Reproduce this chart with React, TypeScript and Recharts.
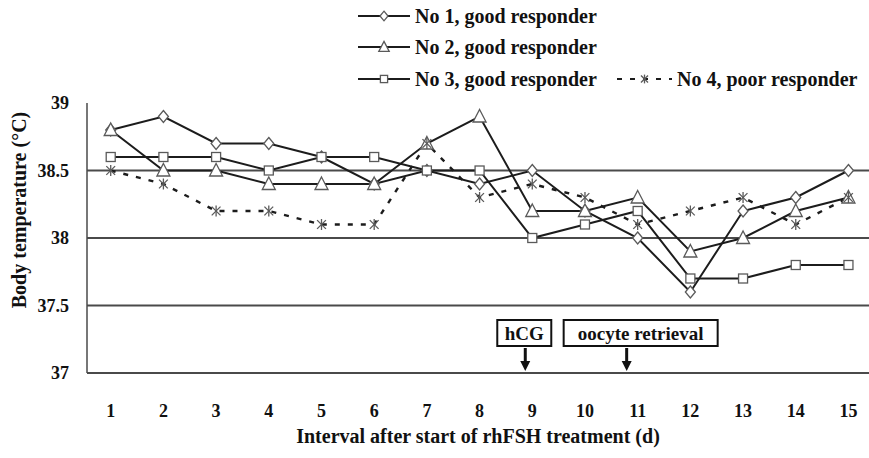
import { LineChart, Line, XAxis, YAxis, CartesianGrid, ReferenceDot } from 'recharts'

// ─── Data ─────────────────────────────────────────────────────────────────────

const days = [1, 2, 3, 4, 5, 6, 7, 8, 9, 10, 11, 12, 13, 14, 15]
const no1 = [38.8, 38.9, 38.7, 38.7, 38.6, 38.4, 38.5, 38.4, 38.5, 38.2, 38.0, 37.6, 38.2, 38.3, 38.5]
const no2 = [38.8, 38.5, 38.5, 38.4, 38.4, 38.4, 38.7, 38.9, 38.2, 38.2, 38.3, 37.9, 38.0, 38.2, 38.3]
const no3 = [38.6, 38.6, 38.6, 38.5, 38.6, 38.6, 38.5, 38.5, 38.0, 38.1, 38.2, 37.7, 37.7, 37.8, 37.8]
const no4 = [38.5, 38.4, 38.2, 38.2, 38.1, 38.1, 38.7, 38.3, 38.4, 38.3, 38.1, 38.2, 38.3, 38.1, 38.3]
const yTicks = [37, 37.5, 38, 38.5, 39]

const rows = days.map((d, i) => ({ day: d, no1: no1[i], no2: no2[i], no3: no3[i], no4: no4[i] }))

type MarkerKind = 'diamond' | 'triangle' | 'square' | 'star'

const series: { key: string; name: string; marker: MarkerKind; dashed?: boolean }[] = [
  { key: 'no1', name: 'No 1, good responder', marker: 'diamond' },
  { key: 'no2', name: 'No 2, good responder', marker: 'triangle' },
  { key: 'no3', name: 'No 3, good responder', marker: 'square' },
  { key: 'no4', name: 'No 4,  poor responder', marker: 'star', dashed: true },
]

const events = [
  { label: 'hCG', day: 9, boxW: 54, boxDx: -8, arrowDx: -7 },
  { label: 'oocyte retrieval', day: 11, boxW: 154, boxDx: 3, arrowDx: -11 },
]

const FONT = '"Liberation Serif", "Times New Roman", serif'
const LINE = '#1c1c1c'
const MARK = '#5a5a5a'
const GRID = '#4a4a4a'

// ─── Markers ──────────────────────────────────────────────────────────────────

function Marker({ kind, cx, cy, scale = 1 }: { kind: MarkerKind; cx: number; cy: number; scale?: number }) {
  const s = scale
  const common = { fill: '#fff', stroke: MARK, strokeWidth: 1.3 }
  if (kind === 'diamond') {
    return <polygon {...common} points={`${cx},${cy - 6 * s} ${cx + 5 * s},${cy} ${cx},${cy + 6 * s} ${cx - 5 * s},${cy}`} />
  }
  if (kind === 'triangle') {
    return <polygon {...common} points={`${cx},${cy - 7 * s} ${cx + 6.5 * s},${cy + 5.5 * s} ${cx - 6.5 * s},${cy + 5.5 * s}`} />
  }
  if (kind === 'square') {
    return <rect {...common} x={cx - 4.5 * s} y={cy - 4.5 * s} width={9 * s} height={9 * s} />
  }
  const r = 5.5 * s
  const d = r * 0.8
  return (
    <g stroke={MARK} strokeWidth={1.3}>
      <line x1={cx} y1={cy - r} x2={cx} y2={cy + r} />
      <line x1={cx - d} y1={cy - d} x2={cx + d} y2={cy + d} />
      <line x1={cx - d} y1={cy + d} x2={cx + d} y2={cy - d} />
    </g>
  )
}

const makeDot = (kind: MarkerKind) => (props: any) => {
  const { cx, cy, index } = props
  if (cx == null || cy == null) return <g key={`${kind}-${index}`} />
  return <Marker key={`${kind}-${index}`} kind={kind} cx={cx} cy={cy} />
}

// ─── Annotations ──────────────────────────────────────────────────────────────

function Callout(props: any) {
  const { cx, cy, label, boxW, boxDx, arrowDx } = props
  const ax = cx + arrowDx
  const bx = cx + boxDx - boxW / 2
  return (
    <g>
      <rect x={bx} y={cy - 53} width={boxW} height={26} fill="#fff" stroke="#111" strokeWidth={2} />
      <text x={bx + boxW / 2} y={cy - 40} textAnchor="middle" dominantBaseline="central"
        fontFamily={FONT} fontWeight={700} fontSize={19} fill="#111">{label}</text>
      <line x1={ax} y1={cy - 25} x2={ax} y2={cy - 10} stroke="#111" strokeWidth={3} />
      <polygon points={`${ax - 5},${cy - 12} ${ax + 5},${cy - 12} ${ax},${cy - 2}`} fill="#111" />
    </g>
  )
}

// ─── Legend ───────────────────────────────────────────────────────────────────

const legendPos = [
  { x: 358, y: 16 },
  { x: 358, y: 47 },
  { x: 358, y: 79 },
  { x: 617, y: 79 },
]

function ChartLegend() {
  return (
    <svg width={869} height={100} style={{ position: 'absolute', left: 0, top: 0 }}>
      {series.map((s, i) => {
        const { x, y } = legendPos[i]
        const len = s.dashed ? 55 : 52
        return (
          <g key={s.key}>
            <line x1={x} y1={y} x2={x + len} y2={y} stroke={LINE} strokeWidth={2.2}
              strokeDasharray={s.dashed ? '5 8' : undefined} />
            <Marker kind={s.marker} cx={x + len / 2} cy={y} scale={0.8} />
            <text x={x + len + 5} y={y} dominantBaseline="central" fontFamily={FONT}
              fontWeight={700} fontSize={20} fill="#111">{s.name}</text>
          </g>
        )
      })}
    </svg>
  )
}

// ─── Chart ────────────────────────────────────────────────────────────────────

const tickStyle = { fontFamily: FONT, fontWeight: 700, fontSize: 18, fill: '#111' }

export default function App() {
  return (
    <div style={{ position: 'absolute', left: 0, top: 0, width: 869, height: 458, background: '#fff' }}>
      <LineChart width={869} height={458} data={rows} margin={{ top: 103, right: 0, bottom: 0, left: 0 }}>
        <CartesianGrid horizontal vertical={false} horizontalValues={[37.5, 38, 38.5]} stroke={GRID} strokeWidth={1.8} />
        <XAxis dataKey="day" type="number" domain={[0.55, 15.39]} ticks={days} allowDataOverflow
          height={85} tick={tickStyle} tickLine={false} tickMargin={25}
          axisLine={{ stroke: GRID, strokeWidth: 1.8 }}
          label={{ value: 'Interval after start of rhFSH treatment (d)', position: 'insideBottom', offset: 15,
            style: { fontFamily: FONT, fontWeight: 700, fontSize: 20, fill: '#111' } }} />
        <YAxis domain={[37, 39]} ticks={yTicks} width={87} tick={tickStyle} tickLine={false} tickMargin={12}
          axisLine={{ stroke: GRID, strokeWidth: 1.5 }}
          label={{
            content: () => (
              <text x={19} y={210} transform="rotate(-90 19 210)" textAnchor="middle" dominantBaseline="central"
                fontFamily={FONT} fontWeight={700} fontSize={20} fill="#111">Body temperature (°C)</text>
            ),
          }} />
        {series.map((s) => (
          <Line key={s.key} dataKey={s.key} name={s.name} type="linear" stroke={LINE}
            strokeWidth={s.dashed ? 2.4 : 2} strokeDasharray={s.dashed ? '5 8' : undefined}
            dot={makeDot(s.marker)} activeDot={false} isAnimationActive={false} />
        ))}
        {events.map((e) => (
          <ReferenceDot key={e.label} x={e.day} y={37} r={0} ifOverflow="visible"
            shape={(p: any) => <Callout {...p} {...e} />} />
        ))}
      </LineChart>
      <ChartLegend />
    </div>
  )
}
